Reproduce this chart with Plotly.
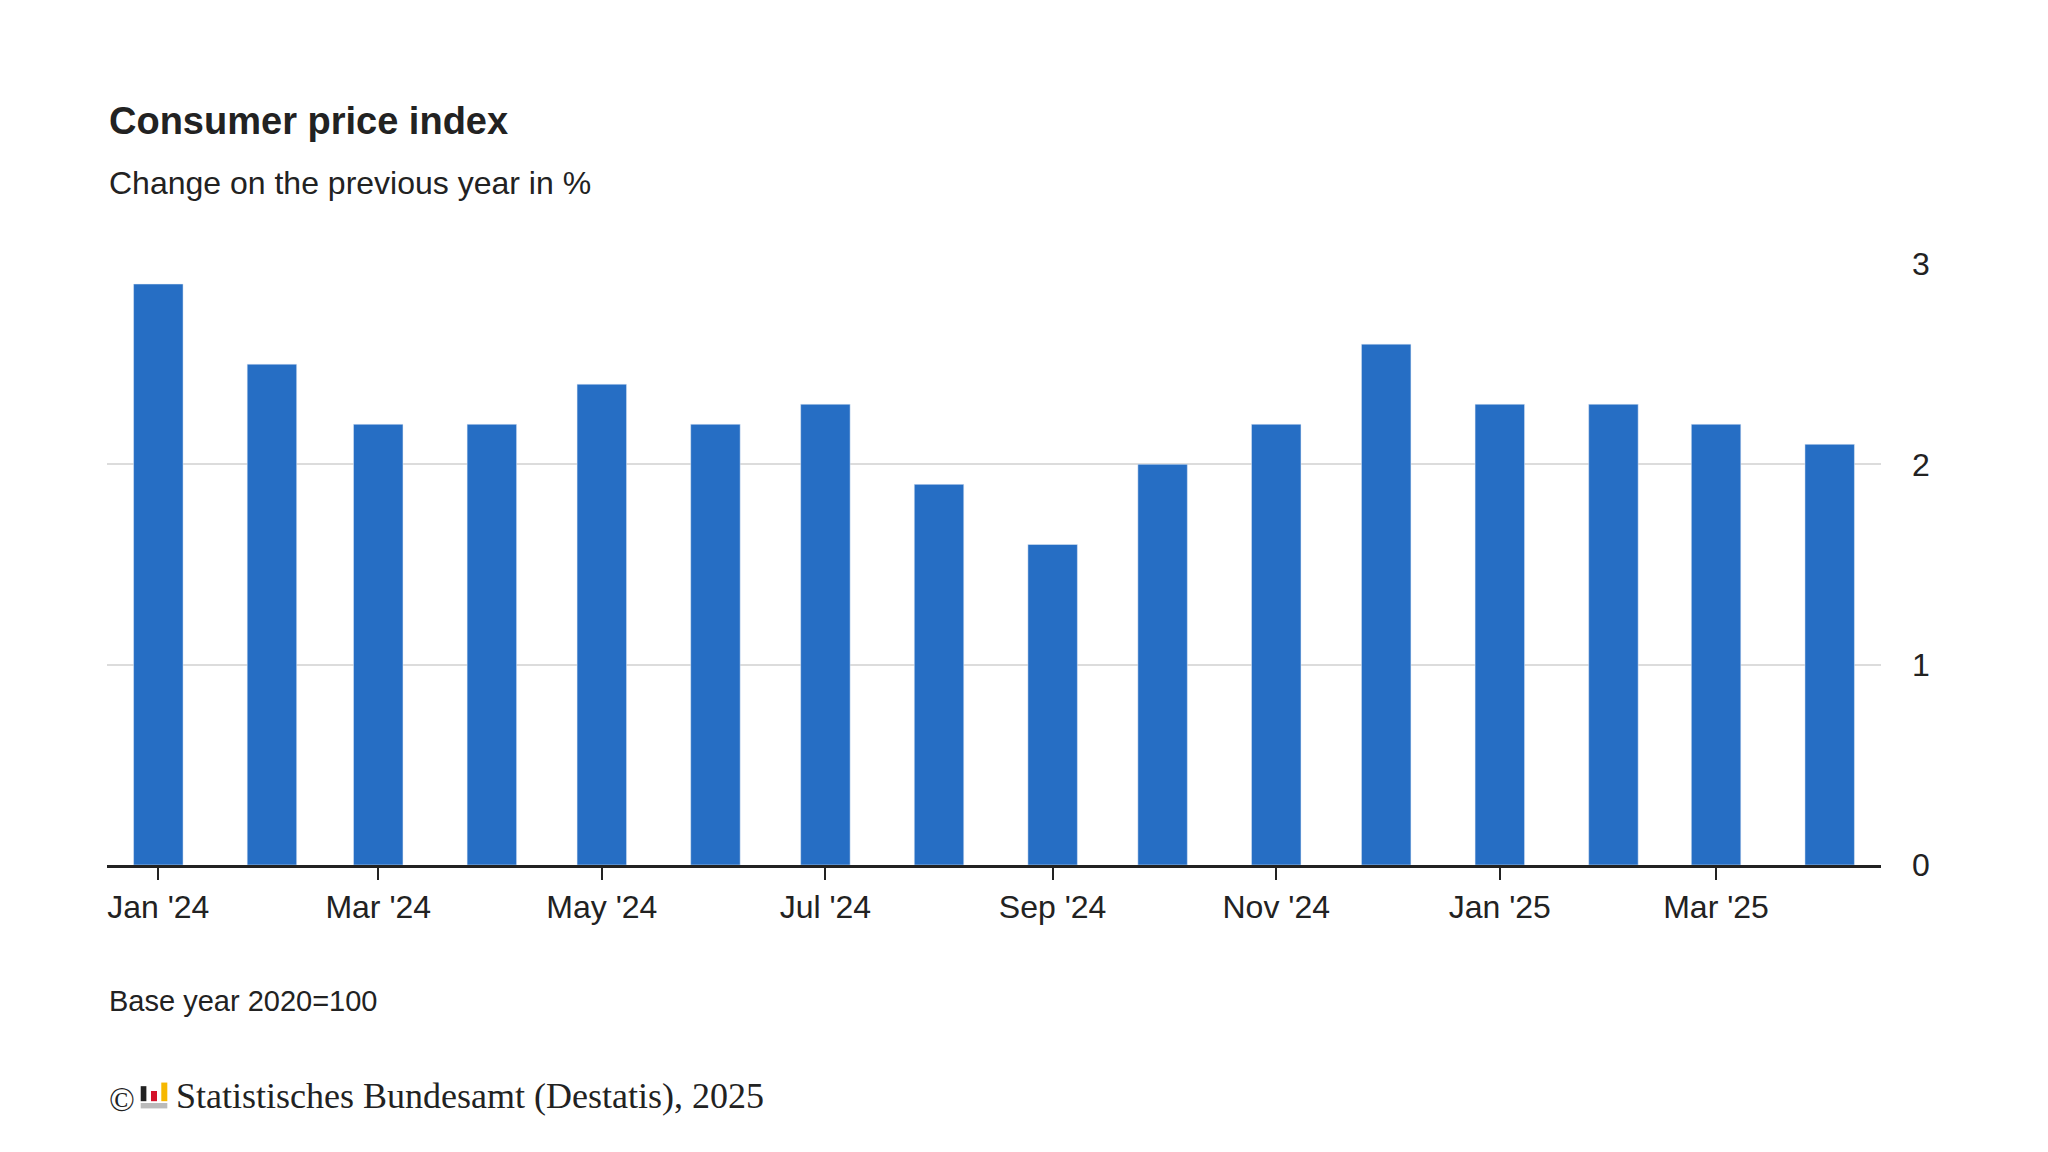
import plotly.graph_objects as go

months = ["2024-01-01", "2024-02-01", "2024-03-01", "2024-04-01", "2024-05-01", "2024-06-01",
          "2024-07-01", "2024-08-01", "2024-09-01", "2024-10-01", "2024-11-01", "2024-12-01",
          "2025-01-01", "2025-02-01", "2025-03-01", "2025-04-01"]
values = [2.9, 2.5, 2.2, 2.2, 2.4, 2.2, 2.3, 1.9, 1.6, 2.0, 2.2, 2.6, 2.3, 2.3, 2.2, 2.1]
tick_dates = ["2024-01-01", "2024-03-01", "2024-05-01", "2024-07-01", "2024-09-01",
              "2024-11-01", "2025-01-01", "2025-03-01"]

day_ms = 86400000
fig = go.Figure(go.Bar(x=months, y=values, marker_color="#266ec4", width=13.5 * day_ms,
                       hovertemplate="%{x|%b %Y}: %{y}<extra></extra>"))

fig.update_layout(
    width=2048, height=1152, plot_bgcolor="white", paper_bgcolor="white",
    margin=dict(l=99, r=175, t=256, b=295),
    font=dict(family="Liberation Sans, Arial", color="#222", size=32),
    showlegend=False,
)
fig.update_xaxes(type="date", range=["2023-12-18", "2025-04-15"], tickvals=tick_dates,
                 tickformat="%b '%y", ticks="outside", ticklen=12, tickwidth=2, tickcolor="#222",
                 showline=True, linecolor="#222", linewidth=3, showgrid=False)
fig.update_yaxes(side="right", range=[0, 3], tickvals=[0, 1, 2, 3], gridcolor="#dcdcdc",
                 gridwidth=1.5, zeroline=False, showline=False, ticklabelstandoff=30)

fig.add_annotation(text="<b>Consumer price index</b>", x=0, y=1.238, xref="paper", yref="paper",
                   xanchor="left", yanchor="middle", showarrow=False, font=dict(size=38, color="#222"))
fig.add_annotation(text="Change on the previous year in %", x=0, y=1.135, xref="paper", yref="paper",
                   xanchor="left", yanchor="middle", showarrow=False, font=dict(size=32, color="#222"))
fig.add_annotation(text="Base year 2020=100", x=0, y=-0.2255, xref="paper", yref="paper",
                   xanchor="left", yanchor="middle", showarrow=False, font=dict(size=29, color="#222"))
fig.add_annotation(text="©", x=0, y=-0.39, xref="paper", yref="paper",
                   xanchor="left", yanchor="middle", showarrow=False,
                   font=dict(family="Liberation Serif", size=34, color="#222"))
fig.add_annotation(text="Statistisches Bundesamt (Destatis), 2025", x=0.038, y=-0.385, xref="paper",
                   yref="paper", xanchor="left", yanchor="middle", showarrow=False,
                   font=dict(family="Liberation Serif", size=36, color="#222"))
# small logo next to the copyright sign
fig.add_shape(type="rect", xref="paper", yref="paper", x0=0.019, x1=0.034, y0=-0.405, y1=-0.396,
              fillcolor="#bbbbbb", line_width=0)
fig.add_shape(type="rect", xref="paper", yref="paper", x0=0.019, x1=0.0222, y0=-0.393, y1=-0.368,
              fillcolor="#222222", line_width=0)
fig.add_shape(type="rect", xref="paper", yref="paper", x0=0.0248, x1=0.0282, y0=-0.393, y1=-0.376,
              fillcolor="#d4122a", line_width=0)
fig.add_shape(type="rect", xref="paper", yref="paper", x0=0.0306, x1=0.034, y0=-0.393, y1=-0.362,
              fillcolor="#f6b800", line_width=0)

fig.write_html("out.html")
